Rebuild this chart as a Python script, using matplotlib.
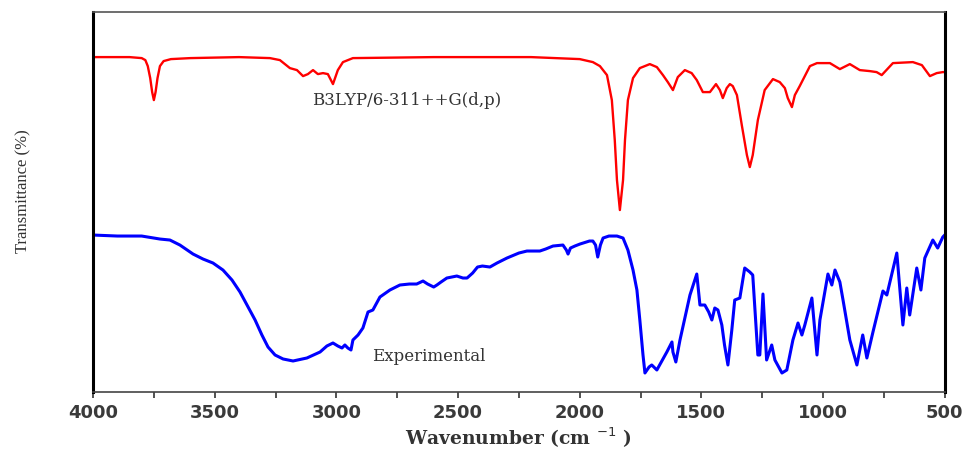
import numpy as np
import matplotlib
matplotlib.use("Agg")
import matplotlib.pyplot as plt
from matplotlib.ticker import MultipleLocator

# calculated spectrum, B3LYP/6-311++G(d,p) (arbitrary transmittance units)
calc_wn = [4000, 3850, 3800, 3785, 3775, 3765, 3757, 3750, 3743, 3735, 3725, 3710,
           3680, 3600, 3400, 3273, 3232, 3191, 3162, 3137, 3117, 3096, 3076, 3055,
           3035, 3014, 2994, 2973, 2932, 2600, 2200, 2000, 1946, 1917, 1888, 1868,
           1856, 1847, 1835, 1822, 1814, 1802, 1781, 1753, 1712, 1683, 1658, 1638,
           1617, 1597, 1568, 1540, 1519, 1494, 1465, 1440, 1424, 1412, 1396, 1383,
           1371, 1354, 1334, 1313, 1301, 1289, 1268, 1240, 1206, 1178, 1157, 1145,
           1128, 1116, 1096, 1054, 1025, 972, 931, 890, 849, 808, 780, 759,
           713, 631, 594, 561, 533, 508, 500]
calc_T = [335, 335, 334, 332, 326, 314, 300, 292, 300, 314, 326, 331,
          333, 334, 335, 334, 332, 324, 322, 316, 318, 322, 318, 319,
          318, 308, 322, 330, 334, 335, 335, 333, 330, 326, 317, 292,
          252, 212, 182, 212, 252, 292, 314, 324, 328, 325, 317, 310,
          302, 315, 322, 319, 312, 300, 300, 308, 302, 294, 304, 308,
          306, 297, 267, 237, 225, 237, 272, 302, 313, 310, 304, 294,
          285, 297, 306, 326, 329, 329, 323, 328, 322, 321, 320, 317,
          329, 330, 327, 316, 319, 320, 320]

# experimental spectrum
exp_wn = [4000, 3900, 3800, 3725, 3684, 3643, 3589, 3548, 3507, 3466, 3429, 3396,
          3363, 3334, 3306, 3281, 3252, 3219, 3178, 3121, 3067, 3039, 3014, 2994,
          2977, 2965, 2953, 2940, 2932, 2911, 2891, 2870, 2850, 2821, 2780, 2739,
          2700, 2670, 2644, 2625,
          2600, 2587, 2570, 2546, 2505, 2480, 2463, 2440, 2420, 2400, 2369, 2340,
          2299, 2250, 2217, 2180, 2164, 2140, 2110, 2069, 2055, 2048, 2038, 2020,
          1999, 1960, 1946, 1935, 1926, 1915, 1904, 1880, 1847, 1822, 1802,
          1781, 1765, 1753, 1740, 1732, 1715, 1704, 1683, 1660,
          1642, 1621, 1617, 1605, 1588, 1547, 1519, 1506, 1486, 1470, 1457, 1445,
          1432, 1416, 1405, 1391, 1375, 1363, 1342, 1322, 1301, 1289, 1268, 1260,
          1247, 1232, 1211, 1198, 1169, 1149, 1124, 1103, 1087, 1075, 1046, 1025,
          1013, 980, 964, 951, 931, 918, 890, 861, 837, 820, 795, 754, 738, 697,
          672, 656, 644, 615, 598, 582, 549, 529, 508, 500]
exp_T = [157, 156, 156, 153, 152, 147, 138, 133, 129, 122, 112, 100,
         85, 72, 57, 45, 37, 33, 31, 34, 40, 46, 49, 46,
         44, 47, 44, 42, 52, 57, 64, 80, 82, 95, 102, 107,
         108, 108, 111, 108,
         105, 107, 110, 114, 116, 114, 114, 119, 125, 126, 125, 129,
         134, 139, 141, 141, 141, 143, 146, 147, 142, 138, 144, 146,
         148, 151, 151, 147, 135, 147, 154, 156, 156, 154, 142,
         122, 102, 72, 37, 19, 25, 27, 22, 32,
         40, 50, 40, 30, 52, 97, 118, 87, 87, 80, 72, 84,
         82, 67, 47, 27, 62, 92, 94, 124, 120, 117, 37, 37,
         98, 32, 47, 32, 19, 22, 52, 69, 57, 67, 94, 37,
         72, 118, 107, 122, 110, 92, 52, 27, 57, 34, 60, 101, 97, 139,
         67, 104, 77, 124, 102, 134, 152, 144, 155, 157]

fig = plt.figure(figsize=(9.66, 4.49), dpi=100)
ax = fig.add_axes([0.0963, 0.127, 0.8817, 0.846])

ax.plot(calc_wn, calc_T, color="#ff0000", lw=1.7, solid_joinstyle="round")
ax.plot(exp_wn, exp_T, color="#0000ff", lw=2.2, solid_joinstyle="round")

ax.set_xlim(4000, 500)
ax.set_ylim(0, 380)
ax.xaxis.set_major_locator(MultipleLocator(500))
ax.xaxis.set_minor_locator(MultipleLocator(250))
ax.set_yticks([])
ax.tick_params(axis="x", which="both", direction="out", length=4, width=1.2,
               color="#333333", pad=5)
for lab in ax.get_xticklabels():
    lab.set_family("DejaVu Sans")
    lab.set_fontweight("bold")
    lab.set_fontsize(13)
    lab.set_color("#3a3a3a")

ax.spines["left"].set_linewidth(2.2)
ax.spines["right"].set_linewidth(2.2)
ax.spines["top"].set_linewidth(1.2)
ax.spines["top"].set_color("#555555")
ax.spines["bottom"].set_linewidth(1.2)
ax.spines["bottom"].set_color("#444444")

ax.set_xlabel("Wavenumber (cm $^{-1}$ )", family="DejaVu Serif", fontsize=13.5,
              fontweight="bold", color="#333333", labelpad=2)
ax.set_ylabel("Transmittance (%)", family="Liberation Serif", fontsize=12,
              color="#333333")
ax.yaxis.set_label_coords(-0.072, 0.529)

ax.text(2712, 292, "B3LYP/6-311++G(d,p)", family="DejaVu Serif", fontsize=12,
        color="#333333", va="center", ha="center")
ax.text(2620, 35, "Experimental", family="DejaVu Serif", fontsize=12,
        color="#333333", va="center", ha="center")

fig.savefig("out.png", dpi=100)
